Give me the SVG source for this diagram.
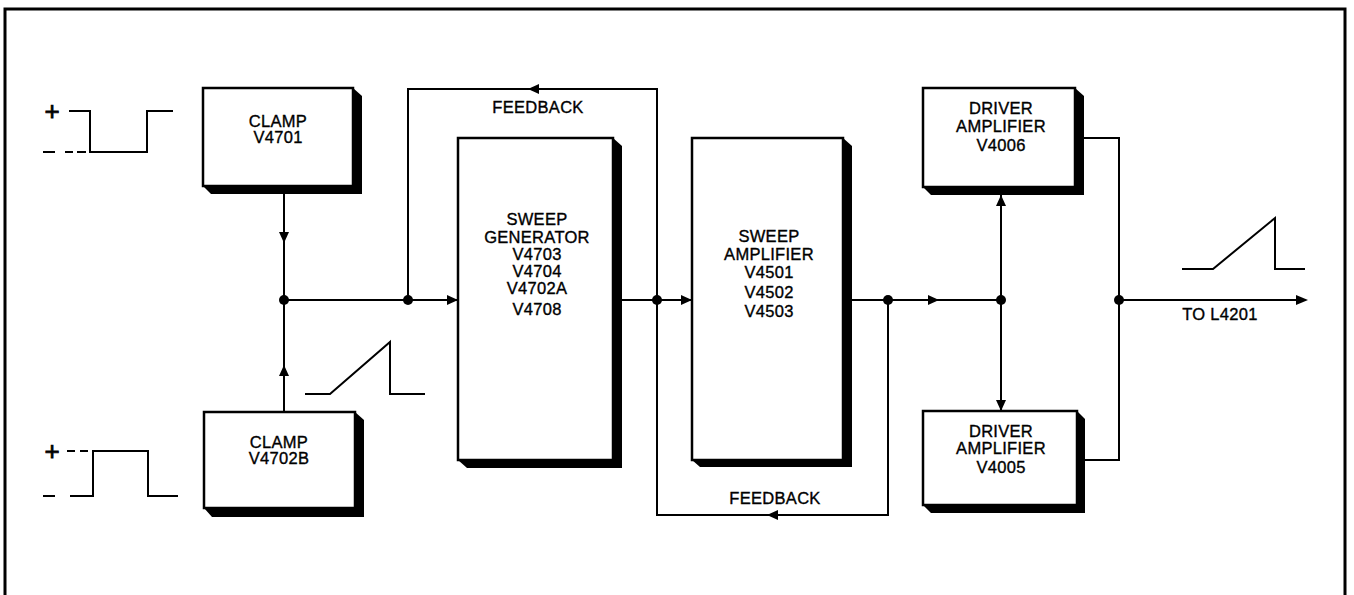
<svg xmlns="http://www.w3.org/2000/svg" width="1354" height="595" viewBox="0 0 1354 595">
<defs>
<style>
.box{fill:#fff;stroke:#000;stroke-width:2.5}
.sh{fill:#000}
.ln{fill:none;stroke:#000;stroke-width:2}
.dash{fill:none;stroke:#000;stroke-width:2}
.t{font-family:"Liberation Sans",Arial,sans-serif;font-size:16.5px;letter-spacing:0.3px;text-anchor:middle;fill:#000;stroke:#000;stroke-width:0.35}
.pl{font-family:"Liberation Sans",Arial,sans-serif;font-size:26px;text-anchor:middle;fill:#000;stroke:#000;stroke-width:0.8}
.dot{fill:#000}
.ar{fill:#000}
</style>
</defs>
<rect x="0" y="0" width="1354" height="595" fill="#fff"/>
<rect x="5" y="9" width="1340" height="600" fill="none" stroke="#000" stroke-width="3"/>

<g id="connectors">
  <path class="ln" d="M284 194 V412"/>
  <polygon class="ar" points="279,232 289,232 284,243"/>
  <polygon class="ar" points="279,376 289,376 284,365"/>
  <path class="ln" d="M284 300 H458"/>
  <polygon class="ar" points="447,295 447,305 458,300"/>
  <path class="ln" d="M408 300 V89 H657 V300"/>
  <polygon class="ar" points="528,89 539,84 539,94"/>
  <path class="ln" d="M621 300 H692"/>
  <polygon class="ar" points="681,295 681,305 692,300"/>
  <path class="ln" d="M657 300 V515 H888 V300"/>
  <polygon class="ar" points="767,515 778,510 778,520"/>
  <path class="ln" d="M852 300 H1001"/>
  <polygon class="ar" points="928,295 928,305 939,300"/>
  <path class="ln" d="M1001 195 V411"/>
  <polygon class="ar" points="996,206 1006,206 1001,195"/>
  <polygon class="ar" points="996,400 1006,400 1001,411"/>
  <path class="ln" d="M1084 138 H1119 V460 H1085"/>
  <path class="ln" d="M1119 300 H1297"/>
  <polygon class="ar" points="1296,295 1296,305 1308,300"/>
  <circle class="dot" cx="284" cy="300" r="5"/>
  <circle class="dot" cx="408" cy="300" r="5"/>
  <circle class="dot" cx="657" cy="300" r="5"/>
  <circle class="dot" cx="888" cy="300" r="5"/>
  <circle class="dot" cx="1001" cy="300" r="5"/>
  <circle class="dot" cx="1119" cy="300" r="5"/>
</g>

<g id="labels">
  <text class="t" x="538" y="113">FEEDBACK</text>
  <text class="t" x="775" y="504">FEEDBACK</text>
  <text class="t" x="1220" y="320">TO L4201</text>
</g>

<g id="waveforms">
  <text class="pl" x="52" y="120">+</text>
  <path class="ln" d="M69 111 H90 V152 H147 V111 H173"/>
  <path class="dash" d="M43 152 H55 M65 152 H73 M77 152 H86"/>
  <text class="pl" x="52" y="460">+</text>
  <path class="dash" d="M67 451 H75 M80 451 H88"/>
  <path class="ln" d="M70 496 H93 V451 H148 V496 H178"/>
  <path class="ln" d="M43 496 H55"/>
  <path class="ln" d="M305 394 H330 L390 342 V394 H425"/>
  <path class="ln" d="M1182 269 H1213 L1275 218 V269 H1305"/>
</g>

<g id="clamp1">
  <polygon class="sh" points="353,88 362,96 362,194 211,194 203,186 353,186"/>
  <rect class="box" x="203" y="88" width="150" height="98"/>
  <text class="t" x="278" y="127">CLAMP</text>
  <text class="t" x="278" y="143">V4701</text>
</g>

<g id="clamp2">
  <polygon class="sh" points="355,412 364,420 364,517 212,517 204,508 355,508"/>
  <rect class="box" x="204" y="412" width="151" height="96"/>
  <text class="t" x="279" y="448">CLAMP</text>
  <text class="t" x="279" y="464">V4702B</text>
</g>

<g id="sweepgen">
  <polygon class="sh" points="613,138 622,146 622,468 467,468 458,460 613,460"/>
  <rect class="box" x="458" y="138" width="155" height="322"/>
  <text class="t" x="537" y="225">SWEEP</text>
  <text class="t" x="537" y="243">GENERATOR</text>
  <text class="t" x="537" y="260">V4703</text>
  <text class="t" x="537" y="277">V4704</text>
  <text class="t" x="537" y="294">V4702A</text>
  <text class="t" x="537" y="315">V4708</text>
</g>

<g id="sweepamp">
  <polygon class="sh" points="843,138 852,146 852,467 700,467 692,460 843,460"/>
  <rect class="box" x="692" y="138" width="151" height="322"/>
  <text class="t" x="769" y="242">SWEEP</text>
  <text class="t" x="769" y="260">AMPLIFIER</text>
  <text class="t" x="769" y="278">V4501</text>
  <text class="t" x="769" y="298">V4502</text>
  <text class="t" x="769" y="317">V4503</text>
</g>

<g id="driver1">
  <polygon class="sh" points="1075,88 1084,96 1084,195 931,195 923,187 1075,187"/>
  <rect class="box" x="923" y="88" width="152" height="99"/>
  <text class="t" x="1001" y="114">DRIVER</text>
  <text class="t" x="1001" y="132">AMPLIFIER</text>
  <text class="t" x="1001" y="151">V4006</text>
</g>

<g id="driver2">
  <polygon class="sh" points="1077,411 1085,419 1085,513 931,513 923,505 1077,505"/>
  <rect class="box" x="923" y="411" width="154" height="94"/>
  <text class="t" x="1001" y="437">DRIVER</text>
  <text class="t" x="1001" y="454">AMPLIFIER</text>
  <text class="t" x="1001" y="473">V4005</text>
</g>
</svg>
